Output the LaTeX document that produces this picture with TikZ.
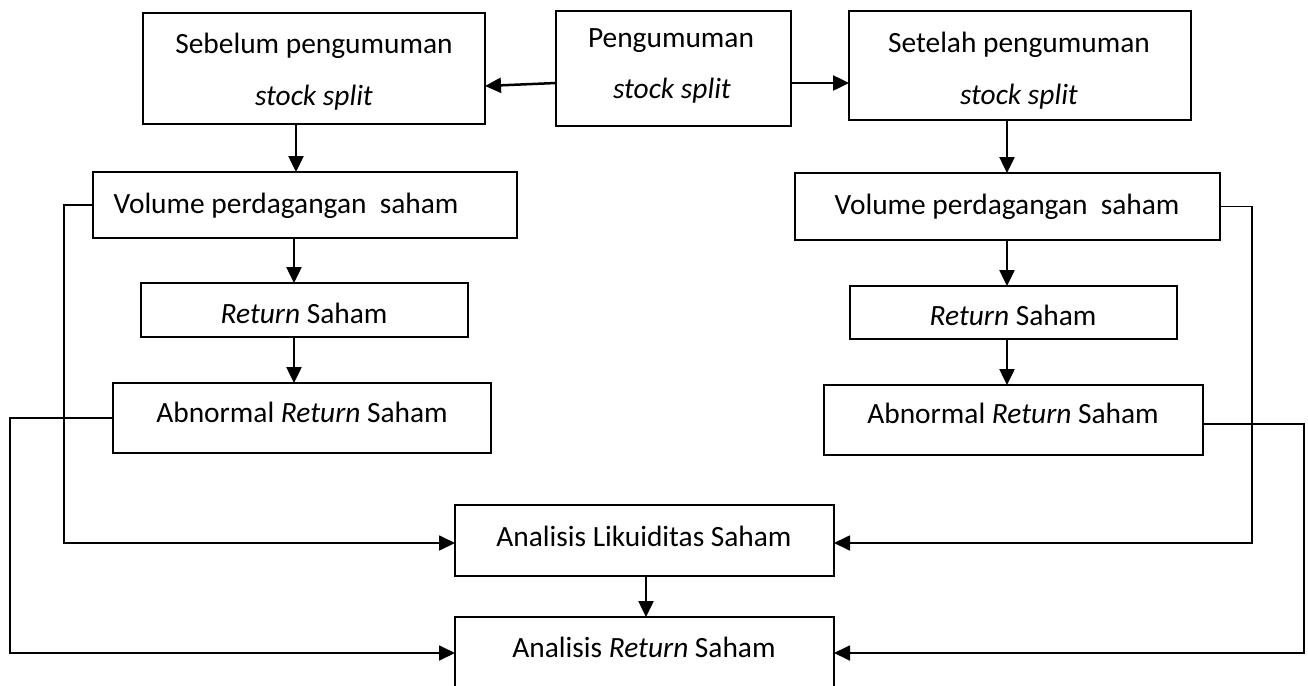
\documentclass[tikz,border=0pt]{standalone}
\usepackage{fontspec}
\setmainfont{Carlito}
\usetikzlibrary{arrows.meta,fit}
\begin{document}
\begin{tikzpicture}[x=0.5pt,y=-0.5pt,
  box/.style={draw,line width=1pt,inner sep=0pt,outer sep=0pt},
  txt/.style={font=\fontsize{14.7}{17}\selectfont,inner sep=0pt},
  arr/.style={line width=1.25pt,-{Triangle[length=8pt,width=7.5pt]}},
  fb/.style={line width=0.9pt,-{Triangle[length=8pt,width=7.5pt]}}]
\useasboundingbox (0,0) rectangle (1308,686);
\clip (0,0) rectangle (1308,686);
% boxes
\node[box,fit={(143,13) (485,124)}] (seb) {};
\node[box,fit={(556,11) (791,126)}] (peng) {};
\node[box,fit={(849,11) (1191,120)}] (set) {};
\node[box,fit={(93,172) (517,238)}] (volL) {};
\node[box,fit={(795,173) (1220,240)}] (volR) {};
\node[box,fit={(141,283) (468,337)}] (retL) {};
\node[box,fit={(850,286) (1177,339)}] (retR) {};
\node[box,fit={(113,383) (491,453)}] (abnL) {};
\node[box,fit={(824,385) (1203,455)}] (abnR) {};
\node[box,fit={(455,505) (834,576)}] (lik) {};
\node[box,fit={(455,617) (834,720)}] (ana) {};
% texts
\node[txt] (t1) at (314,46) {Sebelum pengumuman};
\node[txt] (t2) at (314,98) {\textit{stock split}};
\node[txt] (t3) at (671,41) {Pengumuman};
\node[txt] (t4) at (672,91) {\textit{stock split}};
\node[txt] (t5) at (1019,45) {Setelah pengumuman};
\node[txt] (t6) at (1019,97) {\textit{stock split}};
\node[txt] (t7) at (286,206) {Volume perdagangan\ \ saham};
\node[txt] (t8) at (1007,207) {Volume perdagangan\ \ saham};
\node[txt] (t9) at (304,313) {\textit{Return} Saham};
\node[txt] (t10) at (1013,315) {\textit{Return} Saham};
\node[txt] (t11) at (302,412) {Abnormal \textit{Return} Saham};
\node[txt] (t12) at (1013,413) {Abnormal \textit{Return} Saham};
\node[txt] (t13) at (644,536) {Analisis Likuiditas Saham};
\node[txt] (t14) at (644,647) {Analisis \textit{Return} Saham};
% helper coordinates
\coordinate (yA) at (0,83);
\coordinate (yB) at (0,86);
\coordinate (xS) at (296,0);
\coordinate (xL) at (294,0);
\coordinate (xR) at (1007,0);
\coordinate (xM) at (646,0);
\coordinate (vL) at (64,0);
\coordinate (vLL) at (10,0);
\coordinate (vR) at (1252,0);
\coordinate (vRR) at (1304,0);
\coordinate (yLik) at (0,543);
\coordinate (yAna) at (0,653);
\coordinate (yAbR) at (0,424);
% top arrows
\draw[arr] (peng.west |- yA) -- (seb.east |- yB);
\draw[arr] (peng.east |- yA) -- (set.west |- yA);
% vertical chains
\draw[arr] (seb.south -| xS) -- (volL.north -| xS);
\draw[arr] (volL.south -| xL) -- (retL.north -| xL);
\draw[arr] (retL.south -| xL) -- (abnL.north -| xL);
\draw[arr] (set.south -| xR) -- (volR.north -| xR);
\draw[arr] (volR.south -| xR) -- (retR.north -| xR);
\draw[arr] (retR.south -| xR) -- (abnR.north -| xR);
\draw[arr] (lik.south -| xM) -- (ana.north -| xM);
% feedback lines
\draw[fb] (volL.west) -| (vL |- yLik) -- (lik.west |- yLik);
\draw[fb] (abnL.west) -| (vLL |- yAna) -- (ana.west |- yAna);
\draw[fb] (volR.east) -| (vR |- yLik) -- (lik.east |- yLik);
\draw[fb] (abnR.east |- yAbR) -| (vRR |- yAna) -- (ana.east |- yAna);
\end{tikzpicture}
\end{document}
